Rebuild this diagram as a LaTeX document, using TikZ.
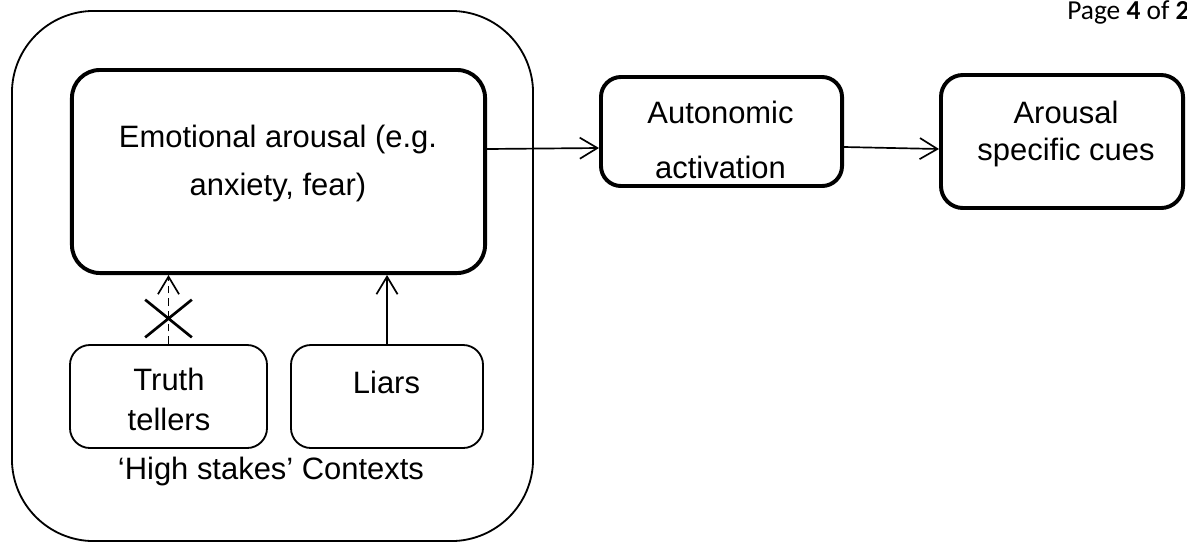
\documentclass[tikz,border=0pt]{standalone}
\usepackage{fontspec}
\setmainfont{Liberation Sans}
\newfontfamily\pagefont{Carlito}
\usetikzlibrary{arrows.meta,shapes.misc,calc}

\begin{document}
\begin{tikzpicture}[x=0.025cm,y=-0.025cm]
	\tikzset{frame/.style={draw,line width=1.3pt,rounded corners=2.05cm,inner sep=0pt}}
	\tikzset{bigbox/.style={draw,line width=2.8pt,inner sep=0pt}}
	\tikzset{smallbox/.style={draw,line width=1.3pt,rounded corners=0.5cm,inner sep=0pt}}
	\tikzset{txt/.style={anchor=base,align=center,inner sep=0pt}}
	\tikzset{arr/.style={line width=1.2pt,-{Straight Barb[length=12.5pt,width=15pt]}}}

	\useasboundingbox (0,0) rectangle (1187,542);

	% boxes
	\node[frame,minimum width=13.025cm,minimum height=13.25cm]			(ctx)	at (272.5,276)	{};
	\node[bigbox,rounded corners=0.7cm,minimum width=10.325cm,minimum height=5.075cm]	(emo)	at (278.5,171.5)	{};
	\node[bigbox,rounded corners=0.5cm,minimum width=6.025cm,minimum height=2.725cm]	(auto)	at (721.5,131.5)	{};
	\node[bigbox,rounded corners=0.55cm,minimum width=6.05cm,minimum height=3.325cm]	(arou)	at (1062,141.5)	{};
	\node[smallbox,minimum width=4.925cm,minimum height=2.575cm]	(truth)	at (168.5,396.5)	{};
	\node[smallbox,minimum width=4.8cm,minimum height=2.575cm]		(liars)	at (387,396.5)	{};

	% texts (base = last line)
	\node[txt,font=\fontsize{22}{34}\selectfont]	(emo-t)		at (278,195)	{Emotional arousal (e.g.\\anxiety, fear)};
	\node[txt,font=\fontsize{22}{39}\selectfont]	(auto-t)	at (720.5,178)	{Autonomic\\activation};
	\node[txt,font=\fontsize{22}{26.3}\selectfont]	(arou-t)	at (1066,160)	{Arousal\\specific cues};
	\node[txt,font=\fontsize{22}{28.4}\selectfont]	(truth-t)	at (169,430)	{Truth\\tellers};
	\node[txt,font=\fontsize{22}{26}\selectfont]	(liars-t)	at (386.5,393)	{Liars};
	\node[txt,font=\fontsize{22}{26}\selectfont]	(ctx-t)		at (271,479)	{‘High stakes’ Contexts};
	\node[anchor=base west,inner sep=0pt,font=\pagefont\fontsize{19.5}{22}\selectfont]	(page)	at (1067,19)	{Page \textbf{4} of \textbf{2}};

	% connectors
	\draw[arr] ($(emo.east)+(0,-22.5)$) -- ($(auto.west)+(0,16.5)$);
	\draw[arr] ($(auto.east)+(0,15.5)$) -- ($(arou.west)+(0,7.5)$);
	\draw[arr] (liars.north) -- (liars.north |- emo.south);
	\draw[arr,dash pattern=on 5.5pt off 3.5pt] (truth.north) -- (truth.north |- emo.south);
	\node[cross out,draw,line width=1.9pt,inner sep=0pt,minimum width=1.1cm,minimum height=0.875cm]	(nope)
		at ($(truth.north)!0.37!(truth.north |- emo.south)$)	{};
\end{tikzpicture}
\end{document}
